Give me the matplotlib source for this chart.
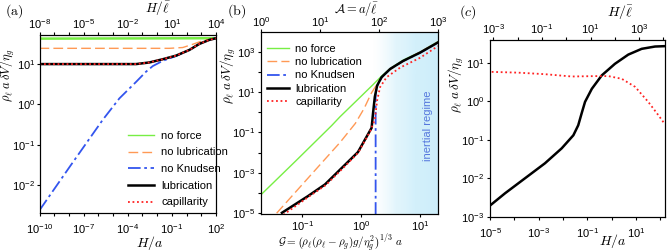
import numpy as np
import matplotlib
matplotlib.use("Agg")
import matplotlib.pyplot as plt
from matplotlib.ticker import FixedLocator, FuncFormatter, NullLocator
from matplotlib.colors import LinearSegmentedColormap

plt.rcParams['font.family'] = ['Liberation Sans', 'DejaVu Sans']
plt.rcParams['mathtext.fontset'] = 'custom'
plt.rcParams['mathtext.rm'] = 'Liberation Sans'
plt.rcParams['mathtext.it'] = 'Liberation Sans:italic'
plt.rcParams['font.size'] = 8
plt.rcParams['xtick.major.size'] = 2.5
plt.rcParams['ytick.major.size'] = 2.5
plt.rcParams['xtick.major.pad'] = 4
plt.rcParams['ytick.major.pad'] = 1.5

# ---- data (log10 values) ----
# panel (a): x = log10(H/a)
a_green_x = [-10, 2]
a_green_y = [1.63, 1.64]
a_orange_x = [-10, -1.17, -0.26, 0.42, 1.1, 2]
a_orange_y = [1.39, 1.39, 1.41, 1.49, 1.58, 1.64]
a_blue_x = [-10, -7.96, -5.7, -4.57, -3.43, -2.76, -2.3, -1.62, -0.71, 0.19, 0.87, 1.55, 2]
a_blue_y = [-2.62, -1.55, -0.38, 0.15, 0.56, 0.81, 0.95, 1.08, 1.2, 1.35, 1.5, 1.6, 1.64]
a_black_x = [-10, -3.43, -2.53, -1.62, -0.71, 0.19, 0.87, 1.55, 2]
a_black_y = [1.0, 1.0, 1.04, 1.12, 1.21, 1.35, 1.5, 1.6, 1.64]
a_red_x = [-10, -3.43, -2.53, -1.62, -0.71, 0.19, 0.87, 1.55, 2]
a_red_y = [1.0, 1.0, 1.04, 1.12, 1.21, 1.35, 1.5, 1.6, 1.64]

# panel (b): x = log10(G)
b_green_x = [-1.72, -1.107, -0.502, -0.36, -0.02, 0.2, 0.35, 0.5, 0.71, 1.0, 1.3]
b_green_y = [-4.16, -2.41, -0.66, -0.22, 0.75, 1.38, 1.82, 2.2, 2.6, 3.0, 3.52]
b_orange_x = [-1.434, -0.84, -0.36, -0.1, 0.05, 0.17, 0.3, 0.43, 0.6, 0.9, 1.3]
b_orange_y = [-5.02, -3.07, -1.5, -0.55, 0.2, 0.95, 1.55, 2.0, 2.35, 2.85, 3.5]
b_blue_x = [0.244, 0.244, 0.27, 0.345, 0.49, 0.71, 1.0, 1.3]
b_blue_y = [-5.1, 0.9, 1.3, 1.75, 2.16, 2.56, 2.97, 3.48]
b_black_x = [-1.344, -0.903, -0.615, -0.327, -0.056, 0.176, 0.2, 0.23, 0.27, 0.345, 0.49, 0.71, 0.995, 1.3]
b_black_y = [-5.0, -4.17, -3.59, -2.76, -1.98, -0.77, -0.04, 0.77, 1.34, 1.75, 2.16, 2.56, 2.97, 3.48]
b_red_x = [-1.32, -0.9, -0.6, -0.3, -0.05, 0.15, 0.23, 0.27, 0.32, 0.43, 0.66, 1.0, 1.3]
b_red_y = [-5.1, -4.22, -3.62, -2.75, -2.0, -0.95, -0.37, 0.6, 1.26, 1.75, 2.23, 2.72, 3.3]
b_inertial_start = 1.5

# panel (c): x = log10(H/a)
c_black_x = [-5, -4.38, -3.56, -2.74, -2.05, -1.57, -1.37, -1.23, -1.09, -0.81, -0.4, 0.14, 0.69, 1.24, 1.79, 2.2]
c_black_y = [-2.71, -2.39, -2.0, -1.61, -1.22, -0.88, -0.62, -0.31, -0.01, 0.33, 0.68, 0.98, 1.22, 1.37, 1.43, 1.44]
c_red_x = [-4.93, -3.84, -2.74, -1.64, -0.68, -0.13, 0.42, 0.97, 1.51, 1.93, 2.17]
c_red_y = [0.77, 0.75, 0.71, 0.65, 0.66, 0.66, 0.59, 0.38, -0.01, -0.36, -0.57]

labels = ['no force', 'no lubrication', 'no Knudsen', 'lubrication', 'capillarity']
GREEN = '#77ee44'
ORANGE = '#ff9955'
BLUE = '#3355ee'
RED = '#ff2222'

def p10(v):
    return 10.0 ** np.array(v)

def decade_axis(axis, lo, hi, labelled):
    axis.set_major_locator(FixedLocator([10.0 ** k for k in range(lo, hi + 1)]))
    axis.set_minor_locator(NullLocator())
    axis.set_major_formatter(FuncFormatter(
        lambda v, pos: r'$10^{%d}$' % round(np.log10(v)) if round(np.log10(v)) in labelled else ''))

def draw_set(ax, g, o, bl, k, r, lw=1.0, glw=1.0):
    ax.plot(p10(g[0]), p10(g[1]), color=GREEN, lw=glw, label=labels[0])
    ax.plot(p10(o[0]), p10(o[1]), color=ORANGE, lw=lw, ls=(0, (7, 3)), label=labels[1])
    ax.plot(p10(bl[0]), p10(bl[1]), color=BLUE, lw=lw + 0.3, ls=(0, (7, 2, 1.5, 2)), label=labels[2])
    ax.plot(p10(k[0]), p10(k[1]), color='black', lw=lw + 0.8, label=labels[3])
    ax.plot(p10(r[0]), p10(r[1]), color=RED, lw=lw + 0.3, ls=(0, (1, 1.5)), label=labels[4])

W, H = 670, 252
fig = plt.figure(figsize=(6.7, 2.52), dpi=100)

def box(l, t, r, b):
    return [l / W, 1 - b / H, (r - l) / W, (b - t) / H]

def label(x, y, s, rot=0, size=10):
    fig.text(x / W, 1 - y / H, s, math_fontfamily='cm', fontsize=size,
             ha='center', va='center', rotation=rot)

def top_axis(ax, lims, lo, hi, labelled, pad=0.5):
    top = ax.twiny()
    top.set_xscale('log')
    top.set_xlim(*lims)
    decade_axis(top.xaxis, lo, hi, labelled)
    top.tick_params(axis='x', pad=pad)
    return top

ylab = r'$\rho_\ell\; a\, \delta V/\eta_g$'

# ---------- (a) ----------
ax = fig.add_axes(box(39.5, 35, 216, 212.7))
ax.set_xscale('log'); ax.set_yscale('log')
draw_set(ax, (a_green_x, a_green_y), (a_orange_x, a_orange_y), (a_blue_x, a_blue_y),
         (a_black_x, a_black_y), (a_red_x, a_red_y), glw=1.8)
ax.set_xlim(1e-10, 1e2)
ax.set_ylim(10 ** -2.68, 10 ** 1.72)
decade_axis(ax.xaxis, -10, 2, [-10, -7, -4, -1, 2])
decade_axis(ax.yaxis, -2, 1, [-2, -1, 0, 1])
ax.tick_params(axis='y', pad=0.5)
leg = ax.legend(loc='upper left', frameon=False, fontsize=8, handlelength=2.4, handletextpad=0.6,
                labelspacing=0.6, borderaxespad=0, borderpad=0, bbox_to_anchor=(0.5, 0.461))
leg.get_lines()[0].set_linewidth(1.0)
top_axis(ax, (1e-8, 1e4), -8, 4, [-8, -5, -2, 1, 4])
label(150, 243, '$H/a$')
label(158, 9, r'$H/\bar{\ell}$', size=9.5)
label(7.5, 75, ylab, rot=90, size=9)
label(14, 11, r'$\mathrm{(a)}$')

# ---------- (b) ----------
ax = fig.add_axes(box(261, 32, 438, 214))
ax.set_xscale('log'); ax.set_yscale('log')
ylo, yhi = 10 ** -5.06, 10 ** 4
cmap = LinearSegmentedColormap.from_list('inert', [(0, '#ffffff'), (0.12, '#e2f5fc'), (0.35, '#d3f0fb'), (1, '#ccedf9')])
ax.imshow(np.linspace(0, 1, 256).reshape(1, -1), cmap=cmap, extent=[b_inertial_start, 20, ylo, yhi],
          aspect='auto', zorder=0, interpolation='bilinear')
draw_set(ax, (b_green_x, b_green_y), (b_orange_x, b_orange_y), (b_blue_x, b_blue_y),
         (b_black_x, b_black_y), (b_red_x, b_red_y))
ax.set_xlim(0.02, 20)
ax.set_ylim(ylo, yhi)
decade_axis(ax.xaxis, -1, 1, [-1, 0, 1])
decade_axis(ax.yaxis, -5, 3, [-5, -3, -1, 1, 3])
ax.tick_params(axis='x', pad=1.5)
ax.text(0.943, 0.486, 'inertial regime', transform=ax.transAxes, rotation=90, color='#5577dd',
        fontsize=8, ha='center', va='center')
ax.legend(loc='upper left', frameon=False, fontsize=8, handlelength=2.0, handletextpad=0.55,
          labelspacing=0.3, borderaxespad=0, borderpad=0, bbox_to_anchor=(0.034, 0.935))
top_axis(ax, (1, 1000), 0, 3, [0, 1, 2, 3], pad=0)
label(340, 243.5, r'$\mathcal{G} = \left(\rho_\ell(\rho_\ell-\rho_g)g/\eta_g^2\right)^{1/3}\ a$', size=8)
label(356, 9, r'$\mathcal{A} = a/\bar{\ell}$', size=9)
label(228, 76, ylab, rot=90, size=9.5)
label(237, 11, r'$\mathrm{(b)}$')

# ---------- (c) ----------
ax = fig.add_axes(box(490, 40, 665, 216.7))
ax.set_xscale('log'); ax.set_yscale('log')
ax.plot(p10(c_black_x), p10(c_black_y), color='black', lw=1.8)
ax.plot(p10(c_red_x), p10(c_red_y), color=RED, lw=1.3, ls=(0, (1, 1.5)))
ax.set_xlim(1e-5, 10 ** 2.2)
ax.set_ylim(1e-3, 10 ** 1.6)
decade_axis(ax.xaxis, -5, 2, [-5, -3, -1, 1])
decade_axis(ax.yaxis, -3, 1, [-3, -2, -1, 0, 1])
top_axis(ax, (10 ** -3.137, 10 ** 4.063), -3, 4, [-3, -1, 1, 3])
label(613, 241, '$H/a$')
label(620, 13, r'$H/\bar{\ell}$')
label(456, 85, ylab, rot=90, size=9.5)
label(468, 12, '$(c)$')

fig.savefig('out.png', dpi=100)
